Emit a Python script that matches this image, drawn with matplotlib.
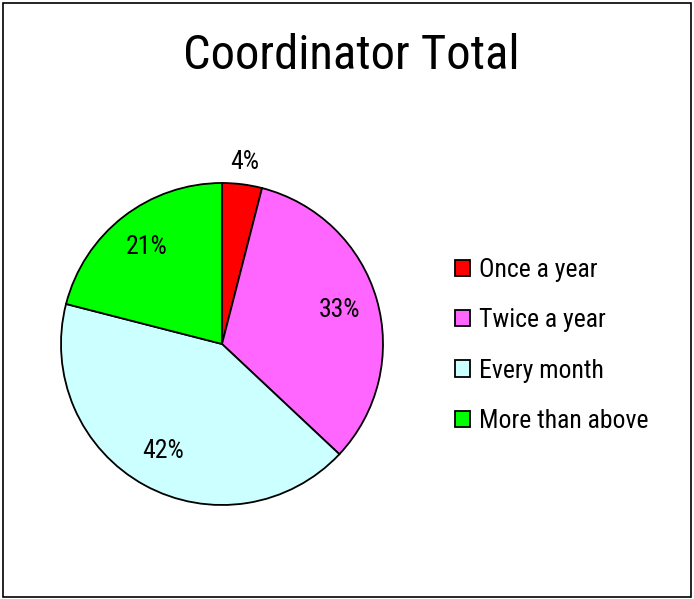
import numpy as np
import matplotlib
matplotlib.use("Agg")
import matplotlib.pyplot as plt
from matplotlib.patches import Rectangle
from matplotlib import font_manager

categories = ["Once a year", "Twice a year", "Every month", "More than above"]
values = [4, 33, 42, 21]
colors = ["#FF0000", "#FF66FF", "#CCFFFF", "#00FF00"]
title = "Coordinator Total"

# prefer a narrow sans font like the reference (Arial Narrow look)
fam, stretch = "Liberation Sans", "normal"
cands = []
for f in font_manager.fontManager.ttflist:
    n = f.name
    st = f.stretch if isinstance(f.stretch, str) else str(f.stretch)
    if ("Narrow" in n or "Condensed" in n or st in ("condensed", "semi-condensed", "extra-condensed", "625", "500", "750")) \
            and "Mono" not in n and "Serif" not in n and f.style == "normal":
        cands.append((n, st))
pref = ["Liberation Sans Narrow", "Roboto Condensed", "Open Sans Condensed", "Noto Sans", "DejaVu Sans Condensed", "DejaVu Sans"]
for p in pref:
    hit = [c for c in cands if c[0] == p]
    if hit:
        fam = p
        stretch = "condensed" if p in ("Noto Sans", "DejaVu Sans") else "normal"
        break
plt.rcParams["font.family"] = [fam, "DejaVu Sans"]
plt.rcParams["font.stretch"] = stretch

W, H = 694, 599
fig = plt.figure(figsize=(W / 100, H / 100), dpi=100)
fig.patch.set_facecolor("white")
fig.add_artist(Rectangle((3 / W, 2 / H), (W - 6) / W, (H - 5) / H, transform=fig.transFigure,
                         fill=False, edgecolor="black", linewidth=1.2))

cx, cy, r = 222, 344, 161
ax = fig.add_axes([(cx - r) / W, (H - cy - r) / H, 2 * r / W, 2 * r / H])
wedges, _ = ax.pie(values, colors=colors, startangle=90, counterclock=False, radius=1,
                   wedgeprops=dict(edgecolor="black", linewidth=1.3))
ax.set_xlim(-1, 1)
ax.set_ylim(-1, 1)
ax.set_aspect("equal")
ax.axis("off")

total = sum(values)
for w, v in zip(wedges, values):
    ang = np.deg2rad((w.theta1 + w.theta2) / 2)
    d = 1.14 if v / total < 0.08 else 0.76
    ax.text(d * np.cos(ang), d * np.sin(ang), f"{round(100 * v / total)}%",
            ha="center", va="center", fontsize=18.5, clip_on=False)

fig.text(351 / W, 1 - 56 / H, title, ha="center", va="center", fontsize=35)

leg = fig.legend(wedges, categories, loc="center left", bbox_to_anchor=(455 / W, 1 - 345.5 / H),
                 frameon=False, fontsize=18.5, handlelength=0.6, handleheight=0.6,
                 handletextpad=0.35, labelspacing=1.02, borderpad=0, borderaxespad=0)
fig.savefig("out.png", dpi=100)
